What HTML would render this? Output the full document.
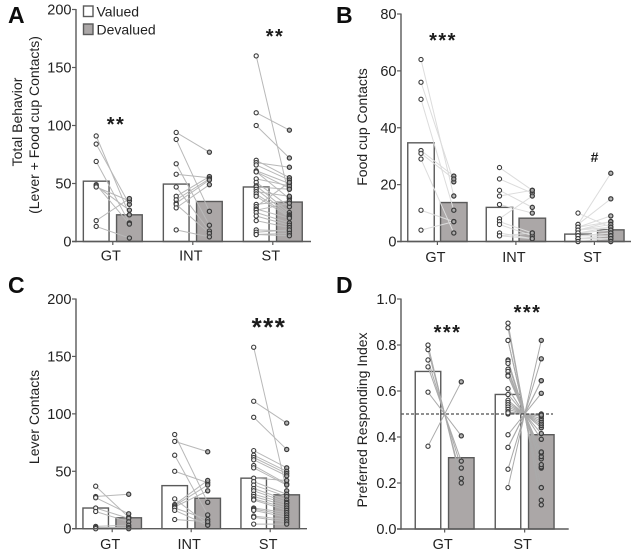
<!DOCTYPE html>
<html>
<head>
<meta charset="utf-8">
<title>Behavior charts</title>
<style>
html,body{margin:0;padding:0;background:#fff;width:638px;height:559px;overflow:hidden}
svg{display:block;font-family:"Liberation Sans",Arial,sans-serif}
</style>
</head>
<body>
<svg id="chart" xmlns="http://www.w3.org/2000/svg" width="638" height="559" viewBox="0 0 638 559">
<defs><filter id="soft" x="0" y="0" width="100%" height="100%"><feGaussianBlur stdDeviation="0.35"/></filter></defs>
<g id="root" filter="url(#soft)"></g>
</svg>
<script>
// ---------- Panel A data ----------
const aCategories = ['GT', 'INT', 'ST'];
const aTicks = [0, 50, 100, 150, 200];
const aBarsValued = [52, 49.5, 47];
const aBarsDevalued = [23, 34.5, 34];
const aGtValued = [91, 84, 69, 49, 48, 47, 18, 13];
const aGtDevalued = [23, 32, 16, 15, 27, 35, 37, 3];
const aIntValued = [94, 88, 67, 58, 47, 39, 36, 33, 32, 29, 10];
const aIntDevalued = [77, 26, 14, 55, 9, 56, 54, 53, 7, 49, 4];
const aStValued = [160, 111, 100, 70, 68, 66, 61, 60, 60, 54, 51, 48, 47, 45, 43, 41, 39, 32, 30, 28, 27, 25, 22, 18, 10, 8, 6, 6];
const aStDevalued = [38, 96, 72, 55, 64, 53, 50, 46, 37, 48, 30, 25, 45, 23, 39, 22, 21, 35, 51, 20, 33, 16, 14, 12, 9, 10, 7, 5];

// ---------- Panel B data ----------
const bCategories = ['GT', 'INT', 'ST'];
const bTicks = [0, 20, 40, 60, 80];
const bBarsValued = [34.7, 12, 2.6];
const bBarsDevalued = [13.7, 8.2, 4.1];
const bGtValued = [64, 56, 50, 32, 31, 29, 11, 4];
const bGtDevalued = [16, 21, 11, 23, 22, 3, 7, 7];
const bIntValued = [26, 22, 18, 16, 13, 8, 7, 6, 3, 2, 2];
const bIntDevalued = [18, 17, 12, 18, 10, 16, 3, 2, 1, 3, 1];
const bStValued = [10, 6, 6, 5, 5, 4, 4, 4, 3, 3, 3, 2, 2, 2, 1, 1, 1, 1, 0, 0, 0];
const bStDevalued = [5, 24, 15, 9, 7, 7, 6, 5, 5, 4, 4, 3, 3, 2, 2, 2, 1, 1, 1, 0, 0];

// ---------- Panel C data ----------
const cCategories = ['GT', 'INT', 'ST'];
const cTicks = [0, 50, 100, 150, 200];
const cBarsValued = [18, 37.5, 44];
const cBarsDevalued = [9.5, 26.5, 29.5];
const cGtValued = [37, 28, 27, 18, 15, 2, 1, 0];
const cGtDevalued = [10, 30, 13, 9, 6, 3, 1, 0];
const cIntValued = [82, 76, 64, 50, 26, 21, 20, 19, 18, 16, 8];
const cIntDevalued = [23, 67, 12, 40, 4, 42, 38, 33, 8, 3, 6];
const cStValued = [158, 111, 97, 68, 64, 62, 60, 55, 53, 44, 41, 38, 35, 33, 30, 28, 26, 25, 18, 17, 16, 11, 10, 4];
const cStDevalued = [33, 92, 69, 53, 50, 48, 46, 39, 38, 42, 30, 28, 25, 23, 22, 20, 18, 16, 14, 12, 10, 8, 6, 4];

// ---------- Panel D data ----------
const dCategories = ['GT', 'ST'];
const dTicks = ['0.0', '0.2', '0.4', '0.6', '0.8', '1.0'];
const dBarsValued = [0.685, 0.585];
const dBarsDevalued = [0.31, 0.41];
const dGtValued = [0.8, 0.78, 0.735, 0.705, 0.595, 0.36];
const dGtDevalued = [0.2, 0.22, 0.265, 0.295, 0.405, 0.64];
const dStValued = [0.895, 0.875, 0.82, 0.82, 0.735, 0.73, 0.72, 0.695, 0.685, 0.67, 0.665, 0.61, 0.585, 0.56, 0.55, 0.54, 0.53, 0.52, 0.51, 0.5, 0.505, 0.41, 0.355, 0.355, 0.26, 0.18];
const dStDevalued = [0.105, 0.125, 0.18, 0.18, 0.265, 0.27, 0.28, 0.305, 0.315, 0.33, 0.335, 0.39, 0.415, 0.44, 0.45, 0.46, 0.47, 0.48, 0.49, 0.5, 0.495, 0.59, 0.645, 0.645, 0.74, 0.82];

// ---------- Rendering ----------
const NS = 'http://www.w3.org/2000/svg';
const root = document.getElementById('root');
const AXIS = '#5a5a5a', BAR = '#5a5a5a', GREY = '#aba7a7', LINK = '#b8b8b8', DOT = '#3a3a3a', TEXT = '#222';

function make(tag, attrs, parent) {
  const el = document.createElementNS(NS, tag);
  for (const k in attrs) el.setAttribute(k, attrs[k]);
  (parent || root).appendChild(el);
  return el;
}
function label(str, x, y, size, anchor, parent, extra) {
  const el = make('text', Object.assign({x: x, y: y, 'font-size': size, 'text-anchor': anchor, fill: TEXT}, extra || {}), parent);
  el.textContent = str;
  return el;
}

function drawPanel(p) {
  const g = make('g', {});
  
  

  const y = v => p.yZero - (v / p.yMax) * (p.yZero - p.yTop);
  const x = (group, series) => p.x0 + group * p.groupStep + series * p.barStep;

  // panel letter
  const letter = label(p.letter, p.letterX, p.letterY, 23, 'start', g, {'font-weight': 'bold', fill: '#111'});
  
  

  // bars
  p.valuedBars.forEach((v, i) => {
    const r = make('rect', {x: x(i, 0) - p.barW / 2, y: y(v), width: p.barW, height: y(0) - y(v), fill: '#fff', stroke: BAR, 'stroke-width': 1.4}, g);
    
    
  });
  p.devaluedBars.forEach((v, i) => {
    const r = make('rect', {x: x(i, 1) - p.barW / 2, y: y(v), width: p.barW, height: y(0) - y(v), fill: GREY, stroke: BAR, 'stroke-width': 1.4}, g);
    
    
  });

  // paired links
  p.pairs.forEach((pair, i) => {
    pair[0].forEach((v, k) => {
      const l = make('line', {x1: x(i, 0), y1: y(v), x2: x(i, 1), y2: y(pair[1][k]), stroke: p.linkColor || LINK, 'stroke-width': 1}, g);
      
      
    });
  });

  // reference line
  if (p.refValue !== undefined) {
    const ref = make('line', {x1: p.axisX, y1: y(p.refValue), x2: p.refEnd, y2: y(p.refValue), stroke: '#222', 'stroke-width': 1, 'stroke-dasharray': '3 2'}, g);
    
    
  }

  // points
  p.pairs.forEach((pair, i) => {
    pair[0].forEach(v => {
      const c = make('circle', {cx: x(i, 0), cy: y(v), r: 2.1, fill: '#fff', 'fill-opacity': 0.85, stroke: DOT, 'stroke-width': 1.1}, g);
      
      
    });
    pair[1].forEach(v => {
      const c = make('circle', {cx: x(i, 1), cy: y(v), r: 2.1, fill: '#aaa', 'fill-opacity': 0.85, stroke: DOT, 'stroke-width': 1.2}, g);
      
      
    });
  });

  // axes
  const ya = make('line', {x1: p.axisX, y1: y(p.yMax) - 0.5, x2: p.axisX, y2: y(0) + 0.7, stroke: AXIS, 'stroke-width': 1.4}, g);
  
  
  const xa = make('line', {x1: p.axisX - 4, y1: y(0), x2: p.axisEnd, y2: y(0), stroke: AXIS, 'stroke-width': 1.4}, g);
  
  

  p.ticks.forEach(t => {
    const v = Number(t);
    const tk = make('line', {x1: p.axisX - 4, y1: y(v), x2: p.axisX, y2: y(v), stroke: AXIS, 'stroke-width': 1.2}, g);
    
    
    const tl = label(String(t), p.axisX - 4.5, y(v) + 5, 14.5, 'end', g);
    
    
  });

  p.categories.forEach((c, i) => {
    const cx = x(i, 0) + p.barStep / 2;
    const tk = make('line', {x1: cx, y1: y(0), x2: cx, y2: y(0) + 3.5, stroke: AXIS, 'stroke-width': 1.2}, g);
    
    
    const tl = label(c, cx - 2, p.catY, 14.5, 'middle', g);
    
    
  });

  // y title
  p.title.forEach(t => {
    const tt = label(t.text, 0, 0, 14, 'middle', g, {transform: 'translate(' + t.x + ',' + t.y + ') rotate(-90)'});
    
    
  });

  // significance marks
  p.marks.forEach(m => {
    const s = label(m.text, m.x, m.y, m.size, 'middle', g, {'letter-spacing': m.spacing || 0, 'font-weight': m.weight || 'bold', fill: '#1a1a1a'});
    
    
  });
}

drawPanel({
  letter: 'A', letterX: 8, letterY: 23,
  categories: aCategories, ticks: aTicks, valuedBars: aBarsValued, devaluedBars: aBarsDevalued,
  pairs: [[aGtValued, aGtDevalued], [aIntValued, aIntDevalued], [aStValued, aStDevalued]],
  yMax: 200, yTop: 9.5, yZero: 241.5, axisX: 76, axisEnd: 311,
  x0: 96.2, groupStep: 80, barStep: 33.2, barW: 25.7, catY: 260.5,
  title: [{text: 'Total Behavior', x: 22, y: 122}, {text: '(Lever + Food cup Contacts)', x: 39, y: 125}],
  marks: [{text: '**', x: 116, y: 131, size: 20, spacing: 1.5}, {text: '**', x: 275, y: 43, size: 20, spacing: 1.5}]
});

drawPanel({
  letter: 'B', letterX: 336, letterY: 23,
  categories: bCategories, ticks: bTicks, valuedBars: bBarsValued, devaluedBars: bBarsDevalued,
  pairs: [[bGtValued, bGtDevalued], [bIntValued, bIntDevalued], [bStValued, bStDevalued]],
  yMax: 80, yTop: 14, yZero: 241.5, axisX: 401, axisEnd: 631,
  x0: 421, groupStep: 78.5, barStep: 32.8, barW: 26.5, catY: 262,
  linkColor: '#dcdcdc',
  title: [{text: 'Food cup Contacts', x: 367, y: 127}],
  marks: [{text: '***', x: 443, y: 47, size: 20, spacing: 1.5}, {text: '#', x: 594.5, y: 162, size: 14}]
});

drawPanel({
  letter: 'C', letterX: 8, letterY: 293,
  categories: cCategories, ticks: cTicks, valuedBars: cBarsValued, devaluedBars: cBarsDevalued,
  pairs: [[cGtValued, cGtDevalued], [cIntValued, cIntDevalued], [cStValued, cStDevalued]],
  yMax: 200, yTop: 299, yZero: 528.7, axisX: 76, axisEnd: 307,
  x0: 95.7, groupStep: 79, barStep: 33, barW: 25.5, catY: 549,
  title: [{text: 'Lever Contacts', x: 39, y: 417}],
  marks: [{text: '***', x: 269, y: 336, size: 26, spacing: 1.5}]
});

drawPanel({
  letter: 'D', letterX: 336, letterY: 293,
  categories: dCategories, ticks: dTicks, valuedBars: dBarsValued, devaluedBars: dBarsDevalued,
  pairs: [[dGtValued, dGtDevalued], [dStValued, dStDevalued]],
  yMax: 1, yTop: 299, yZero: 529, axisX: 401, axisEnd: 568.7,
  x0: 428, groupStep: 80, barStep: 33.3, barW: 25.5, catY: 549,
  linkColor: '#aaaaaa',
  refValue: 0.5, refEnd: 553,
  title: [{text: 'Preferred Responding Index', x: 367, y: 420}],
  marks: [{text: '***', x: 447.5, y: 339, size: 20, spacing: 1.5}, {text: '***', x: 527.5, y: 319, size: 20, spacing: 1.5}]
});

// Legend
const legend = make('g', {});


const swatchValued = make('rect', {x: 83.5, y: 6, width: 9.5, height: 10.5, fill: '#fff', stroke: BAR, 'stroke-width': 1.4}, legend);


const swatchDevalued = make('rect', {x: 83.5, y: 24, width: 9.5, height: 10.5, fill: GREY, stroke: BAR, 'stroke-width': 1.4}, legend);


const legendValued = label('Valued', 96.5, 16.5, 14, 'start', legend);


const legendDevalued = label('Devalued', 96.5, 34.5, 14, 'start', legend);


</script>
</body>
</html>
